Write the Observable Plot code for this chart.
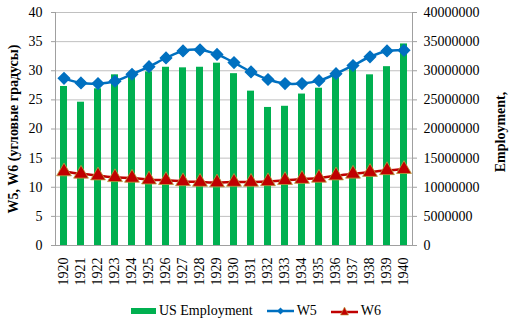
<!DOCTYPE html>
<html>
<head>
<meta charset="utf-8">
<script src="https://cdn.jsdelivr.net/npm/d3@7"></script>
<script src="https://cdn.jsdelivr.net/npm/@observablehq/plot@0.6"></script>
<style>
  html, body { margin: 0; padding: 0; background: #fff; }
  #wrap { width: 512px; height: 324px; position: relative; font-family: "Liberation Serif", "DejaVu Serif", serif; }
  #wrap svg text { font-family: "Liberation Serif", "DejaVu Serif", serif; }
  .legend { position: absolute; left: 0; width: 512px; top: 302px; height: 18px; display: flex; justify-content: center; align-items: center; font-size: 14px; color: #000; font-family: "Liberation Serif", "DejaVu Serif", serif; }
  .legend .item { display: flex; align-items: center; margin: 0 7px; }
  .legend svg { margin-right: 2px; }
</style>
</head>
<body>
<div id="wrap"></div>
<script>
const years = [1920,1921,1922,1923,1924,1925,1926,1927,1928,1929,1930,1931,1932,1933,1934,1935,1936,1937,1938,1939,1940];
const employment = [27300000,24600000,26900000,29300000,29000000,29800000,30600000,30500000,30600000,31300000,29500000,26500000,23700000,23900000,26000000,27000000,29000000,30500000,29300000,30700000,34600000];
const w5 = [28.7,27.9,27.8,28.2,29.4,30.7,32.2,33.4,33.6,32.8,31.4,29.8,28.5,27.8,27.8,28.3,29.5,30.9,32.4,33.4,33.5];
const w6 = [12.7,12.3,12.0,11.7,11.6,11.3,11.2,11.0,10.9,10.8,10.9,10.9,11.0,11.2,11.4,11.6,12.0,12.3,12.6,12.9,13.1];
const leftTicks = [0,5,10,15,20,25,30,35,40];
const rightTicks = [0,5000000,10000000,15000000,20000000,25000000,30000000,35000000,40000000];
const seriesNames = ["US Employment","W5","W6"];
const leftTitle = "W5, W6 (угловые градусы)";
const rightTitle = "Employment,";

const rows = years.map((y, i) => ({year: String(y), emp: employment[i], w5: w5[i], w6: w6[i]}));
const EMP_SCALE = 1e6;

const chart = Plot.plot({
  width: 512,
  height: 296,
  marginLeft: 55,
  marginRight: 100,
  marginTop: 12,
  marginBottom: 51,
  style: "font-family: 'Liberation Serif', 'DejaVu Serif', serif; font-size: 14px; color: #000; background: #fff; overflow: visible;",
  x: {type: "band", domain: years.map(String), paddingInner: 0.59, paddingOuter: 0.295, label: null},
  y: {domain: [0, 40], label: null},
  marks: [
    Plot.ruleY(leftTicks.filter(d => d > 0), {stroke: "#c0c0c0", strokeWidth: 1}),
    Plot.barY(rows, {x: "year", y: d => d.emp / EMP_SCALE, fill: "#00B050"}),
    Plot.ruleY([0], {stroke: "#a0a0a0"}),
    Plot.frame({anchor: "left", stroke: "#a0a0a0"}),
    Plot.frame({anchor: "right", stroke: "#a0a0a0"}),
    Plot.axisY({anchor: "left", ticks: leftTicks, tickSize: 4, tickPadding: 9, stroke: "#a0a0a0", label: null, fontSize: 14}),
    Plot.axisY({anchor: "right", ticks: leftTicks, tickSize: 4, tickPadding: 7, stroke: "#a0a0a0", label: null, tickFormat: d => String(rightTicks[leftTicks.indexOf(d)]), fontSize: 14}),
    Plot.axisX({anchor: "bottom", tickSize: 0, tickPadding: 12, tickRotate: -90, textAnchor: "end", label: null, fontSize: 14}),
    Plot.line(rows, {x: "year", y: "w5", stroke: "#0070C0", strokeWidth: 2.5, curve: "catmull-rom"}),
    Plot.dot(rows, {x: "year", y: "w5", symbol: "diamond2", fill: "#0070C0", stroke: "#0070C0", r: 5}),
    Plot.line(rows, {x: "year", y: "w6", stroke: "#C00000", strokeWidth: 2.5, curve: "catmull-rom"}),
    Plot.dot(rows, {x: "year", y: "w6", symbol: "triangle", fill: "#C00000", stroke: "#b8a040", strokeWidth: 0.8, r: 5.5}),
    Plot.text([leftTitle], {frameAnchor: "left", text: d => d, rotate: -90, dx: -42, textAnchor: "middle", fontWeight: "bold", fontSize: 14}),
    Plot.text([rightTitle], {frameAnchor: "right", text: d => d, rotate: -90, dx: 88, dy: 3, textAnchor: "middle", fontWeight: "bold", fontSize: 14})
  ]
});
const wrap = document.getElementById("wrap");
wrap.appendChild(chart);

const legend = document.createElement("div");
legend.className = "legend";
legend.innerHTML = `
  <span class="item"><svg width="26" height="8"><rect x="0" y="1" width="25" height="6" fill="#00B050"/></svg>${seriesNames[0]}</span>
  <span class="item"><svg width="28" height="12"><line x1="0" y1="6" x2="27" y2="6" stroke="#0070C0" stroke-width="2.5"/><path d="M13.5,2.5 L17,6 L13.5,9.5 L10,6 Z" fill="#0070C0"/></svg>${seriesNames[1]}</span>
  <span class="item"><svg width="28" height="12"><line x1="0" y1="7" x2="27" y2="7" stroke="#C00000" stroke-width="2.5"/><path d="M13.5,2 L17.5,10 L9.5,10 Z" fill="#C00000" stroke="#b8a040" stroke-width="0.6"/></svg>${seriesNames[2]}</span>`;
wrap.appendChild(legend);
</script>
</body>
</html>
